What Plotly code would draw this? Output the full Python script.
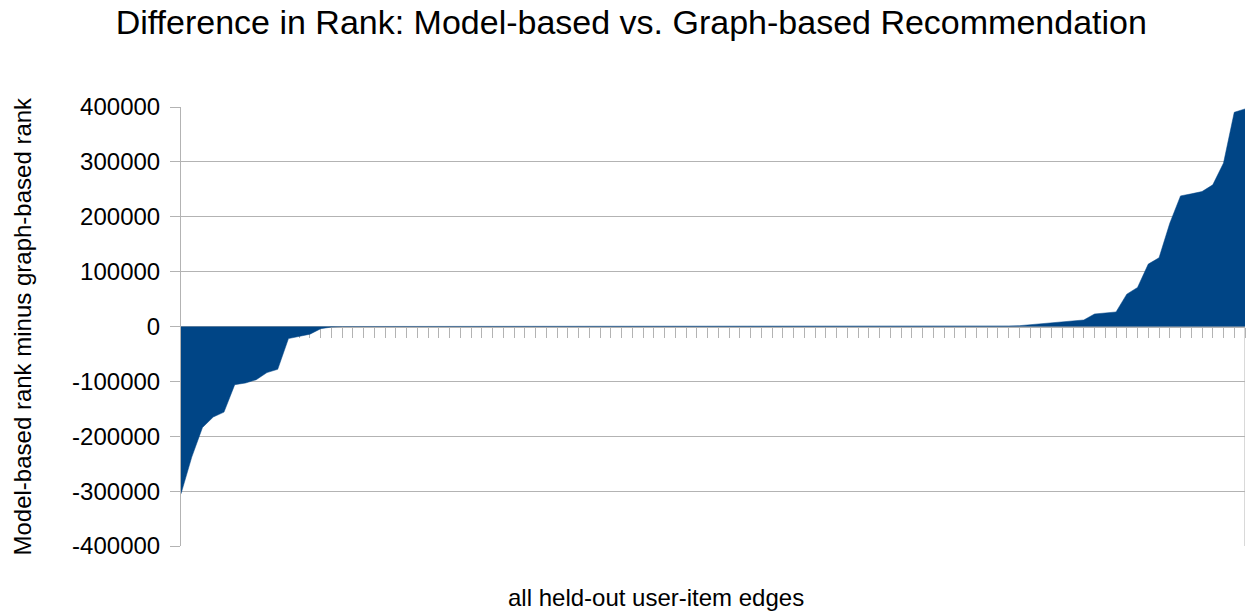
import plotly.graph_objects as go

# Rank difference per held-out user-item edge (sorted ascending)
rank_diff = [
    -305000, -238000, -184000, -165000, -156000, -106000, -103000, -97000, -84000, -78000,
    -22000, -18000, -14000, -4000, -1000,
    0, 0, 0, 0, 0, 0, 0, 0, 0, 0,
    0, 0, 0, 0, 0, 0, 0, 0, 0, 0,
    0, 0, 0, 0, 0, 0, 0, 0, 0, 0,
    0, 0, 0, 0, 0, 0, 0, 0, 0, 0,
    0, 0, 0, 0, 0, 0, 0, 0, 0, 0,
    0, 0, 0, 0, 0, 0, 0, 0,
    100, 300, 500, 800, 1100, 1500, 3300, 4600, 5800, 7700,
    10600, 11900, 22800, 24500, 26500, 58900, 71100, 113700, 125200, 188100,
    238000, 241700, 245900, 258100, 297800, 390300, 396500,
]
edges = list(range(len(rank_diff)))

y_tick_values = [400000, 300000, 200000, 100000, 0, -100000, -200000, -300000, -400000]
y_tick_labels = ["400000", "300000", "200000", "100000", "0",
                 "-100000", "-200000", "-300000", "-400000"]

AREA = "#004586"
GRID = "#b3b3b3"
FONT = "Liberation Sans, Arial, sans-serif"

fig = go.Figure()
fig.add_trace(go.Scatter(
    x=edges, y=rank_diff,
    mode="lines", fill="tozeroy",
    line=dict(color=AREA, width=0.5),
    fillcolor=AREA,
    hoverinfo="x+y",
    showlegend=False,
))

fig.update_layout(
    width=1250, height=611,
    margin=dict(l=181, r=5, t=107, b=65),
    paper_bgcolor="white", plot_bgcolor="white",
    font=dict(family=FONT, color="#000000"),
    title=dict(
        text="Difference in Rank: Model-based vs. Graph-based Recommendation",
        font=dict(size=34, family=FONT, color="#000000"),
        x=0.505, xref="container", xanchor="center",
        y=1 - 22 / 611, yref="container", yanchor="middle",
    ),
    xaxis=dict(
        range=[edges[0], edges[-1]],
        tickvals=edges, showticklabels=False,
        ticks="outside", ticklen=10, tickcolor=GRID, tickwidth=1,
        showline=True, linecolor=GRID, linewidth=1,
        showgrid=False, zeroline=False,
        anchor="free", position=0.5,
        layer="below traces",
    ),
    yaxis=dict(
        range=[-400000, 400000],
        tickvals=y_tick_values, ticktext=y_tick_labels,
        tickfont=dict(size=24, family=FONT, color="#000000"),
        ticks="outside", ticklen=10, tickcolor=GRID, tickwidth=1,
        showline=True, linecolor=GRID, linewidth=1,
        showgrid=True, gridcolor=GRID, gridwidth=1,
        zeroline=False,
        ticklabelstandoff=5,
    ),
    annotations=[
        dict(
            text="Model-based rank minus graph-based rank",
            xref="paper", yref="paper", x=0, y=0.5,
            xshift=-159, textangle=-90,
            xanchor="center", yanchor="middle", showarrow=False,
            font=dict(size=24, family=FONT, color="#000000"),
        ),
        dict(
            text="all held-out user-item edges",
            xref="paper", yref="paper", x=(656 - 181) / 1064, y=0,
            yshift=-51, xanchor="center", yanchor="middle", showarrow=False,
            font=dict(size=24, family=FONT, color="#000000"),
        ),
    ],
    shapes=[
        # right-hand boundary below the category axis
        dict(type="line", xref="x", yref="y",
             x0=edges[-1], x1=edges[-1], y0=0, y1=-400000,
             line=dict(color=GRID, width=1), layer="below"),
    ],
)

fig.write_html("out.html")
